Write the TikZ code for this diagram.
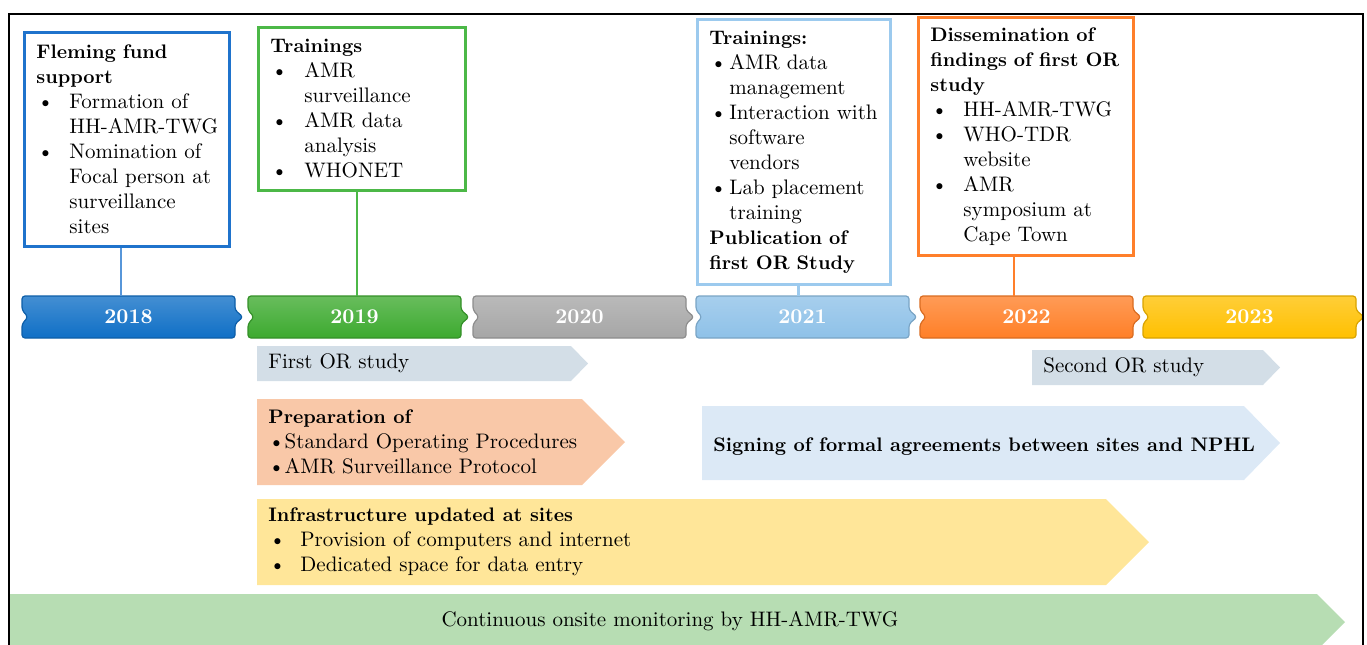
\documentclass[tikz,border=0pt]{standalone}

\definecolor{c18}{HTML}{0F6FC6}
\definecolor{c19}{HTML}{3DAA2F}
\definecolor{c20}{HTML}{A6A6A6}
\definecolor{c21}{HTML}{8EC1E8}
\definecolor{c22}{HTML}{FF7F27}
\definecolor{c23}{HTML}{FFC000}
\definecolor{b18}{HTML}{1F73CC}
\definecolor{b19}{HTML}{4CB847}
\definecolor{b21}{HTML}{9CCAEE}
\definecolor{b22}{HTML}{FF7F2A}
\definecolor{studyfill}{HTML}{D3DEE7}
\definecolor{prepfill}{HTML}{F9C8A8}
\definecolor{signfill}{HTML}{DCE9F6}
\definecolor{infrafill}{HTML}{FFE699}
\definecolor{monfill}{HTML}{B7DDB3}

\newcommand\bl[1]{\makebox[#1][l]{\hspace{0.5pt}\textbullet}}
\newcommand\ind[1]{\hspace*{#1}}
\newcommand\B[1]{{\fontsize{9.8}{12.5}\selectfont\bfseries #1}}

\begin{document}
\begin{tikzpicture}[x=0.5pt,y=-0.5pt,
  txt/.style={font=\fontsize{10.5}{12.5}\selectfont, inner sep=0pt, align=left},
  evbox/.style 2 args={draw=#1, line width=1.4pt, anchor=north west, #2,
    inner xsep=6pt, inner ysep=0pt, align=left, font=\fontsize{10.5}{12.5}\selectfont},
  yr/.style={font=\fontsize{10.5}{12}\selectfont\bfseries, text=white,
    minimum width=106.5pt, minimum height=21pt, inner sep=0pt},
  bar/.style={rounded corners=1.5pt, line width=0.6pt}]
  \clip (0,0) rectangle (1367,644);

  % arrows below the time line
  \fill[studyfill] (257,346) -- (571,346) -- (588,363.5) -- (571,381) -- (257,381) -- cycle;
  \fill[studyfill] (1032,350) -- (1263,350) -- (1280,367.5) -- (1263,385) -- (1032,385) -- cycle;
  \fill[prepfill] (257,399) -- (582,399) -- (625,442) -- (582,485) -- (257,485) -- cycle;
  \fill[signfill] (702,406) -- (1244,406) -- (1280,443) -- (1244,480) -- (702,480) -- cycle;
  \fill[infrafill] (257,499) -- (1106,499) -- (1149,542) -- (1106,585) -- (257,585) -- cycle;
  \fill[monfill] (9,594) -- (1317,594) -- (1345,622) -- (1317,650) -- (9,650) -- cycle;

  \node[txt, anchor=west] (or1) at (268,363) {First OR study};
  \node[txt, anchor=west] (or2) at (1043,367) {Second OR study};
  \node[txt, anchor=west] (prep) at (268,442) {\B{Preparation of}\\
    \textbullet Standard Operating Procedures\\ \textbullet AMR Surveillance Protocol};
  \node[txt, anchor=west] (sign) at (713,447)
    {\B{Signing of formal agreements between sites and NPHL}};
  \node[txt, anchor=west] (infra) at (268,542) {\B{Infrastructure updated at sites}\\
    \bl{16pt}Provision of computers and internet\\ \bl{16pt}Dedicated space for data entry};
  \node[txt] (mon) at (670,621) {Continuous onsite monitoring by HH-AMR-TWG};

  % event boxes
  \node[evbox={b18}{minimum width=102.5pt, minimum height=107pt}, text width=90.5pt]
    (f2018) at (23,31) {%
    \B{Fleming fund}\\ \B{support}\\
    \bl{16.5pt}Formation of\\ \ind{16.5pt}\mbox{HH-AMR-TWG}\\
    \bl{16.5pt}Nomination of\\ \ind{16.5pt}Focal person at\\
    \ind{16.5pt}surveillance\\ \ind{16.5pt}sites};
  \node[evbox={b19}{minimum width=102.5pt, minimum height=81.5pt}, text width=91.5pt]
    (f2019) at (257,26) {%
    \B{Trainings}\\
    \bl{17pt}AMR\\ \ind{17pt}surveillance\\
    \bl{17pt}AMR data\\ \ind{17pt}analysis\\
    \bl{17pt}WHONET};
  \node[evbox={b21}{minimum width=96.5pt, minimum height=132.5pt}, text width=84.5pt]
    (f2021) at (696,18) {%
    \B{Trainings:}\\
    \bl{10pt}AMR data\\ \ind{10pt}management\\
    \bl{10pt}\mbox{Interaction with}\\ \ind{10pt}software\\ \ind{10pt}vendors\\
    \bl{10pt}Lab placement\\ \ind{10pt}training\\
    \B{Publication of}\\ \B{first OR Study}};
  \node[evbox={b22}{minimum width=107.5pt, minimum height=119pt}, text width=95.5pt]
    (f2022) at (917,16) {%
    \B{Dissemination of}\\ \B{\mbox{findings of first OR}}\\ \B{study}\\
    \bl{16.5pt}\mbox{HH-AMR-TWG}\\
    \bl{16.5pt}\mbox{WHO-TDR}\\ \ind{16.5pt}website\\
    \bl{16.5pt}AMR\\ \ind{16.5pt}symposium at\\ \ind{16.5pt}Cape Town};

  % time line
  \foreach \yr/\xl/\cl in {2018/22/c18,2019/248/c19,2020/473/c20,2021/696/c21,2022/920/c22,2023/1143/c23}{
    \draw[bar, draw=\cl!85!black, top color=\cl!78!white, bottom color=\cl]
      (\xl,296) -- ++(213,0) -- ++(0,14) -- ++(8,7) -- ++(-8,7) -- ++(0,14)
      -- ++(-213,0) -- ++(0,-14) -- ++(6,-7) -- ++(-6,-7) -- cycle;
    \node[yr] (y\yr) at (\xl+106.5,317) {\yr};
  }

  % connectors
  \draw[b18!75!white, line width=1pt] ([xshift=-2.75pt]f2018.south) -- ([xshift=-2.75pt]f2018.south |- y2018.north);
  \draw[b19, line width=1pt] ([xshift=-2.25pt]f2019.south) -- ([xshift=-2.25pt]f2019.south |- y2019.north);
  \draw[b21, line width=1.4pt] ([xshift=2.25pt]f2021.south) -- ([xshift=2.25pt]f2021.south |- y2021.north);
  \draw[b22, line width=1pt] ([xshift=-5.75pt]f2022.south) -- ([xshift=-5.75pt]f2022.south |- y2022.north);

  % frame
  \draw[line width=1.2pt] (9,14) rectangle (1363,690);
\end{tikzpicture}
\end{document}
